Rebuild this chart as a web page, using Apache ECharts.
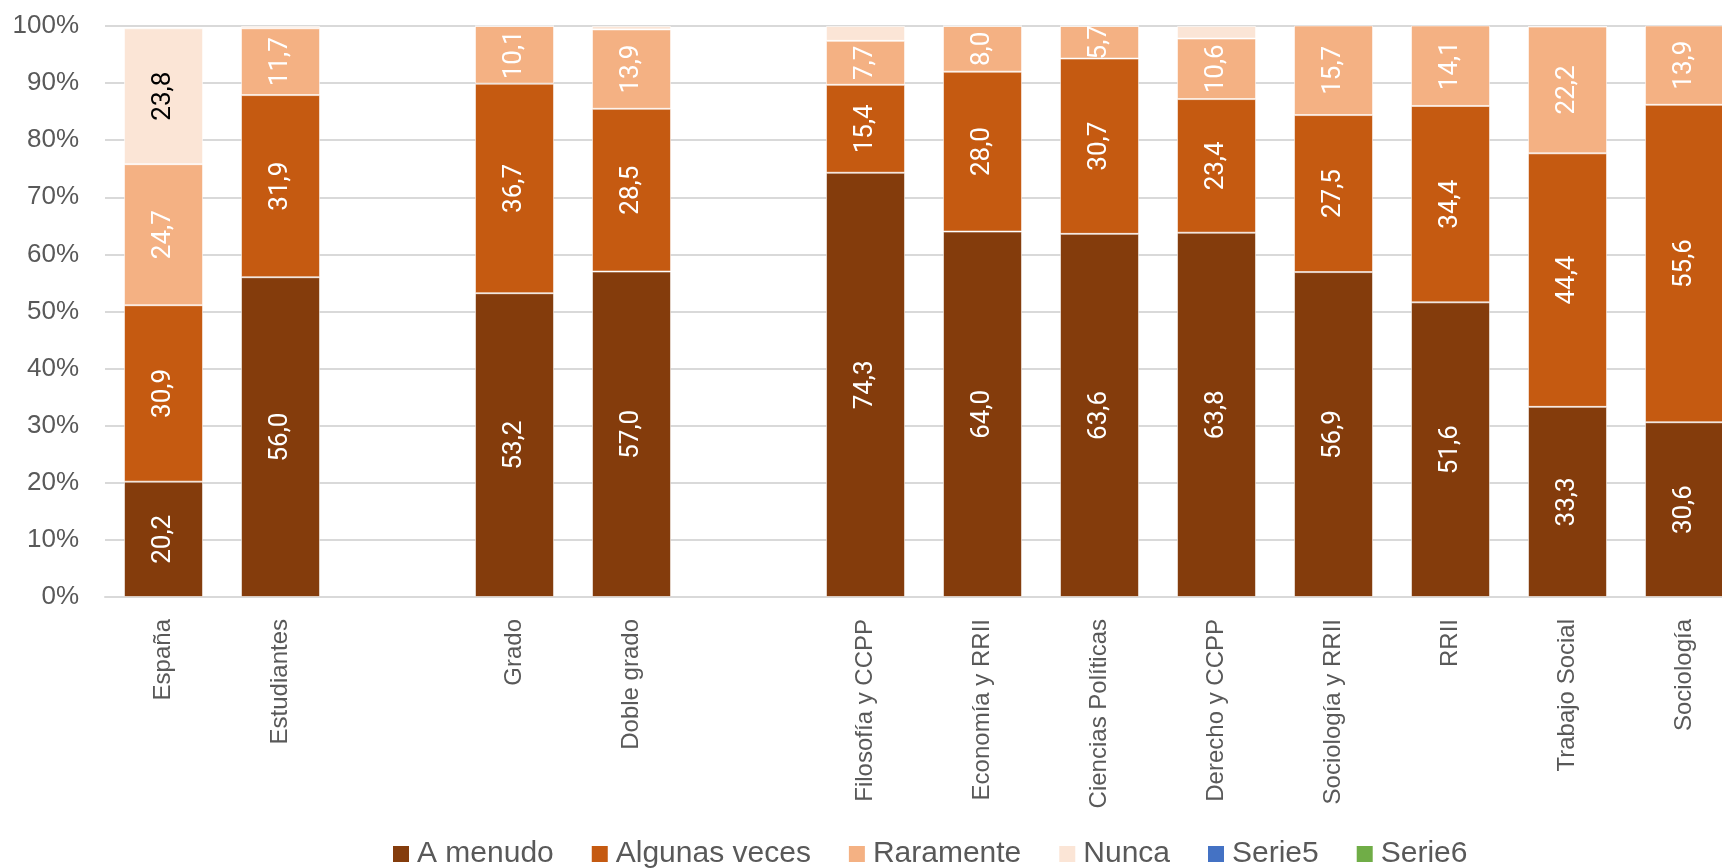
<!DOCTYPE html>
<html>
<head>
<meta charset="utf-8">
<script src="https://cdn.jsdelivr.net/npm/echarts@6/dist/echarts.min.js"></script>
<style>html,body{margin:0;padding:0;background:#fff;overflow:hidden}#c{width:1722px;height:868px}</style>
</head>
<body>
<div id="c"></div>
<script>
const categories = ['España', 'Estudiantes', ' ', 'Grado', 'Doble grado', '  ', 'Filosofía y CCPP', 'Economía y RRII', 'Ciencias Políticas', 'Derecho y CCPP', 'Sociología y RRII', 'RRII', 'Trabajo Social', 'Sociología'];
const aMenudo      = [20.2, 56.0, '-', 53.2, 57.0, '-', 74.3, 64.0, 63.6, 63.8, 56.9, 51.6, 33.3, 30.6];
const algunasVeces = [30.9, 31.9, '-', 36.7, 28.5, '-', 15.4, 28.0, 30.7, 23.4, 27.5, 34.4, 44.4, 55.6];
const raramente    = [24.7, 11.7, '-', 10.1, 13.9, '-', 7.7, 8.0, 5.7, 10.6, 15.7, 14.1, 22.2, 13.9];
const nunca        = [23.8, 0.4, '-', 0, 0.6, '-', 2.6, 0, 0, 2.2, 0, 0, 0, 0];
const seriesNames = ['A menudo', 'Algunas veces', 'Raramente', 'Nunca', 'Serie5', 'Serie6'];
const yTicks = [0, 10, 20, 30, 40, 50, 60, 70, 80, 90, 100];

const colors = ['#843C0C', '#C55A11', '#F4B183', '#FBE5D6', '#4472C4', '#70AD47'];
const fmt = p => (typeof p.value === 'number' && p.value >= 3) ? p.value.toFixed(1).replace('.', ',') : '';

function barSeries(name, data, color, labelColor) {
  return {
    name, type: 'bar', stack: 'total', data,
    barWidth: '67.5%',
    itemStyle: { color, borderColor: 'rgba(255,255,255,0.55)', borderWidth: 1 },
    label: {
      show: true, position: 'inside', rotate: 90, formatter: fmt,
      color: labelColor, fontSize: 26, fontFamily: 'Roboto'
    },
    emphasis: { disabled: true }
  };
}

const chart = echarts.init(document.getElementById('c'), null, { renderer: 'canvas' });
chart.setOption({
  animation: false,
  color: colors,
  grid: { left: 105, width: 1638, top: 26, bottom: 271, containLabel: false, outerBoundsMode: 'none' },
  legend: {
    data: seriesNames,
    left: 388, top: 834,
    icon: 'rect', itemWidth: 16, itemHeight: 16, itemGap: 38,
    itemStyle: { borderWidth: 0 },
    textStyle: { fontSize: 30, color: '#595959', fontFamily: '"Liberation Sans", Arial', padding: [0, 0, 0, 3] }
  },
  xAxis: {
    type: 'category', data: categories,
    axisTick: { show: false },
    axisLine: { lineStyle: { color: '#D9D9D9', width: 2 } },
    axisLabel: { rotate: 90, interval: 0, margin: 22, fontSize: 24, color: '#595959', fontFamily: '"Liberation Sans", Arial' }
  },
  yAxis: {
    type: 'value', min: yTicks[0], max: yTicks[yTicks.length - 1], interval: 10,
    axisLine: { show: false }, axisTick: { show: false },
    splitLine: { lineStyle: { color: '#D9D9D9', width: 2 } },
    axisLabel: { formatter: '{value}%', fontSize: 26, color: '#595959', margin: 26, fontFamily: '"Liberation Sans", Arial' }
  },
  series: [
    barSeries(seriesNames[0], aMenudo, colors[0], '#fff'),
    barSeries(seriesNames[1], algunasVeces, colors[1], '#fff'),
    barSeries(seriesNames[2], raramente, colors[2], '#fff'),
    barSeries(seriesNames[3], nunca, colors[3], '#000'),
    { name: seriesNames[4], type: 'bar', stack: 'total', data: [], itemStyle: { color: colors[4] } },
    { name: seriesNames[5], type: 'bar', stack: 'total', data: [], itemStyle: { color: colors[5] } }
  ]
});
</script>
</body>
</html>
